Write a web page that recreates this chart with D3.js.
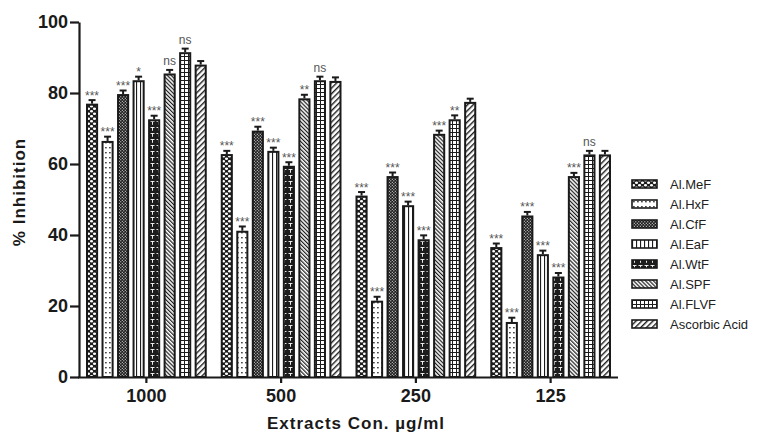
<!DOCTYPE html>
<html><head><meta charset="utf-8">
<script src="https://cdn.jsdelivr.net/npm/d3@7"></script>
<style>
body{margin:0;background:#fff}
svg{display:block}
text{font-family:"Liberation Sans",Arial,Helvetica,sans-serif}
</style>
</head><body>
<svg id="c" width="764" height="433"></svg>
<script>
// ---------- data ----------
const groups = ["1000", "500", "250", "125"];
const series = ["Al.MeF", "Al.HxF", "Al.CfF", "Al.EaF", "Al.WtF", "Al.SPF", "Al.FLVF", "Ascorbic Acid"];
const meF   = [77.0, 62.8, 51.1, 36.6];
const hxF   = [66.5, 41.2, 21.5, 15.5];
const cfF   = [79.7, 69.4, 56.6, 45.5];
const eaF   = [83.6, 63.7, 48.4, 34.6];
const wtF   = [72.6, 59.5, 38.8, 28.3];
const spF   = [85.5, 78.5, 68.5, 56.6];
const flvF  = [91.5, 83.6, 72.6, 62.7];
const ascor = [88.0, 83.4, 77.5, 62.7];
const errMeF   = [1.0, 0.9, 1.0, 1.0];
const errHxF   = [1.2, 1.2, 1.1, 1.2];
const errCfF   = [1.0, 1.1, 1.0, 1.0];
const errEaF   = [1.0, 0.9, 1.0, 1.0];
const errWtF   = [1.0, 1.0, 1.1, 1.0];
const errSpF   = [1.0, 1.0, 0.9, 0.9];
const errFlvF  = [1.0, 1.0, 1.1, 1.0];
const errAscor = [1.0, 1.0, 0.9, 1.0];
const sigMeF   = ["***", "***", "***", "***"];
const sigHxF   = ["***", "***", "***", "***"];
const sigCfF   = ["***", "***", "***", "***"];
const sigEaF   = ["*", "***", "***", "***"];
const sigWtF   = ["***", "***", "***", "***"];
const sigSpF   = ["ns", "**", "***", "***"];
const sigFlvF  = ["ns", "ns", "**", "ns"];
const sigAscor = ["", "", "", ""];
const yTicks = [0, 20, 40, 60, 80, 100];
const xTitle = "Extracts Con. µg/ml";
const yTitle = "% Inhibition";

const values = [meF, hxF, cfF, eaF, wtF, spF, flvF, ascor];
const errors = [errMeF, errHxF, errCfF, errEaF, errWtF, errSpF, errFlvF, errAscor];
const sigs   = [sigMeF, sigHxF, sigCfF, sigEaF, sigWtF, sigSpF, sigFlvF, sigAscor];

// ---------- layout ----------
const svg = d3.select("#c");
const X0 = 79, X1 = 618, Ytop = 22, Ybot = 377;
const x0 = d3.scaleBand().domain(groups).range([X0, X1]).padding(0);
const x1 = d3.scaleBand().domain(series).range([7, x0.bandwidth() - 7]).paddingInner(0.22).paddingOuter(0);
const y = d3.scaleLinear().domain([0, 100]).range([Ybot, Ytop]);

// ---------- patterns ----------
const defs = svg.append("defs");
function pat(id, w, h, bg, rot) {
  const p = defs.append("pattern").attr("id", id).attr("patternUnits", "userSpaceOnUse")
    .attr("width", w).attr("height", h);
  if (rot) p.attr("patternTransform", `rotate(${rot})`);
  p.append("rect").attr("width", w).attr("height", h).attr("fill", bg);
  return p;
}
const dark = "#1c1c1c";
let p;
// MeF
p = pat("p0", 6, 5, dark);
p.append("ellipse").attr("cx", 1.5).attr("cy", 1.25).attr("rx", 1.6).attr("ry", 1.2).attr("fill", "#fff");
p.append("ellipse").attr("cx", 4.5).attr("cy", 3.75).attr("rx", 1.6).attr("ry", 1.2).attr("fill", "#fff");
// HxF
p = pat("p1", 4, 5, "#fff");
p.append("rect").attr("x", 1.2).attr("y", 2).attr("width", 1.4).attr("height", 1.4).attr("fill", dark);
// CfF
p = pat("p2", 3, 3, dark);
p.append("rect").attr("x", 0.3).attr("y", 0.3).attr("width", 1).attr("height", 1).attr("fill", "#fff");
p.append("rect").attr("x", 1.8).attr("y", 1.8).attr("width", 1).attr("height", 1).attr("fill", "#fff");
// EaF
p = pat("p3", 4, 4, "#fff");
p.append("rect").attr("x", 0).attr("y", 0).attr("width", 1.1).attr("height", 4).attr("fill", dark);
// WtF
p = pat("p4", 6, 6, dark);
p.append("path").attr("d", "M0.5,1.5H4.5M2.5,1.5V4.8").attr("stroke", "#fff").attr("stroke-width", 0.9).attr("fill", "none");
// SPF
p = pat("p5", 2.8, 2.8, "#fff", -45);
p.append("rect").attr("x", 0).attr("y", 0).attr("width", 1.2).attr("height", 2.8).attr("fill", dark);
// FLVF
p = pat("p6", 4, 4, "#fff");
p.append("rect").attr("x", 0).attr("y", 0).attr("width", 1).attr("height", 4).attr("fill", dark);
p.append("rect").attr("x", 0).attr("y", 0).attr("width", 4).attr("height", 1).attr("fill", dark);
// Ascorbic
p = pat("p7", 4, 4, "#fff", 45);
p.append("rect").attr("x", 0).attr("y", 0).attr("width", 1.4).attr("height", 4).attr("fill", dark);

// ---------- bars ----------
const rows = [];
series.forEach((s, si) => groups.forEach((g, gi) => {
  rows.push({s, si, g, v: values[si][gi], e: errors[si][gi], sig: sigs[si][gi]});
}));

const bw = x1.bandwidth();
const barG = svg.append("g");
barG.selectAll("rect").data(rows).join("rect")
  .attr("x", d => x0(d.g) + x1(d.s) + 1)
  .attr("y", d => y(d.v) + 1)
  .attr("width", bw - 2)
  .attr("height", d => y(0) - y(d.v) - 1)
  .attr("fill", d => `url(#p${d.si})`)
  .attr("stroke", "#1a1a1a").attr("stroke-width", 2);

// error bars
const eg = svg.append("g").attr("stroke", "#1a1a1a").attr("stroke-width", 2);
eg.selectAll("line.v").data(rows).join("line").attr("class", "v")
  .attr("x1", d => x0(d.g) + x1(d.s) + bw / 2).attr("x2", d => x0(d.g) + x1(d.s) + bw / 2)
  .attr("y1", d => y(d.v)).attr("y2", d => y(d.v + d.e));
eg.selectAll("line.c").data(rows).join("line").attr("class", "c")
  .attr("x1", d => x0(d.g) + x1(d.s) + bw / 2 - 3.5).attr("x2", d => x0(d.g) + x1(d.s) + bw / 2 + 3.5)
  .attr("y1", d => y(d.v + d.e)).attr("y2", d => y(d.v + d.e));

// significance
svg.append("g").selectAll("text").data(rows.filter(d => d.sig)).join("text")
  .attr("x", d => x0(d.g) + x1(d.s) + bw / 2)
  .attr("y", d => y(d.v + d.e) - (d.sig === "ns" ? 5 : 0.5))
  .attr("text-anchor", "middle")
  .attr("font-size", 12)
  .attr("fill", "#555555")
  .text(d => d.sig);

// ---------- axes ----------
const yAxis = svg.append("g").attr("transform", `translate(${X0},0)`)
  .call(d3.axisLeft(y).tickValues(yTicks).tickSize(9).tickSizeOuter(0).tickPadding(2).tickFormat(d3.format("d")));
const xAxis = svg.append("g").attr("transform", `translate(0,${Ybot})`)
  .call(d3.axisBottom(x0).tickSize(6).tickSizeOuter(0).tickPadding(6));
[yAxis, xAxis].forEach(a => {
  a.select(".domain").attr("stroke", "#1a1a1a").attr("stroke-width", 2.2);
  a.selectAll(".tick line").attr("stroke", "#1a1a1a").attr("stroke-width", 2.2);
  a.selectAll(".tick text").attr("font-size", 18).attr("font-weight", "bold").attr("fill", "#1a1a1a")
    .attr("font-family", '"Liberation Sans",Arial,Helvetica,sans-serif');
});
xAxis.select(".domain").attr("d", `M${X0 - 1},0.5H${X1}`);

svg.append("text").attr("x", 356).attr("y", 429).attr("text-anchor", "middle")
  .attr("font-size", 17).attr("font-weight", "bold").attr("letter-spacing", 1).attr("fill", "#1a1a1a")
  .text(xTitle);
svg.append("text").attr("transform", "translate(25,192) rotate(-90)").attr("text-anchor", "middle")
  .attr("font-size", 17).attr("font-weight", "bold").attr("letter-spacing", 1).attr("fill", "#1a1a1a")
  .text(yTitle);

// ---------- legend ----------
const lg = svg.append("g");
const li = lg.selectAll("g").data(series).join("g")
  .attr("transform", (d, i) => `translate(632,${184 + i * 20})`);
li.append("rect").attr("x", 0).attr("y", -4).attr("width", 25).attr("height", 8)
  .attr("fill", (d, i) => `url(#p${i})`).attr("stroke", "#1a1a1a").attr("stroke-width", 1.6);
li.append("text").attr("x", 38).attr("dy", "0.36em").attr("font-size", 13).attr("fill", "#222").text(d => d);
</script>
</body></html>
